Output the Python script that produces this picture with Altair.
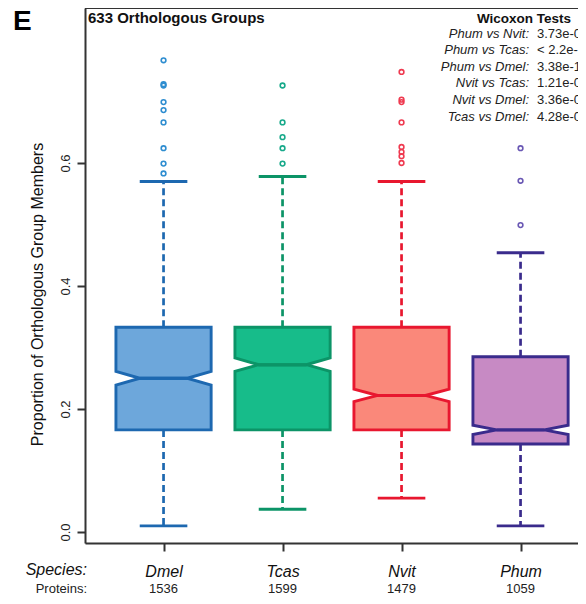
import altair as alt
import pandas as pd

# ---------------- data ----------------
species = ["Dmel", "Tcas", "Nvit", "Phum"]
proteins = [1536, 1599, 1479, 1059]
positions = [1, 2, 3, 4]
q1 = [0.166, 0.166, 0.166, 0.143]
median = [0.250, 0.272, 0.222, 0.166]
q3 = [0.333, 0.333, 0.333, 0.285]
whisker_low = [0.010, 0.037, 0.055, 0.010]
whisker_high = [0.570, 0.578, 0.570, 0.454]
notch = [0.0112, 0.0109, 0.0101, 0.0075]
outliers = {
    "Dmel": [0.767, 0.728, 0.726, 0.699, 0.686, 0.666, 0.624, 0.599, 0.583],
    "Tcas": [0.726, 0.666, 0.642, 0.624, 0.599],
    "Nvit": [0.748, 0.703, 0.699, 0.666, 0.626, 0.618, 0.611, 0.600],
    "Phum": [0.624, 0.571, 0.499],
}
test_names = ["Phum vs Nvit:", "Phum vs Tcas:", "Phum vs Dmel:",
              "Nvit vs Tcas:", "Nvit vs Dmel:", "Tcas vs Dmel:"]
test_pvals = ["3.73e-09", "< 2.2e-16", "3.38e-15", "1.21e-03", "3.36e-02", "4.28e-01"]
y_ticks = [0.0, 0.2, 0.4, 0.6]

fill_colors = ["#6DA7DB", "#17BC8A", "#FA887A", "#C78AC4"]
stroke_colors = ["#1D68B0", "#0C9467", "#E8172F", "#3A2B8C"]
point_colors = ["#2E8DD0", "#17A98A", "#EF3A50", "#6A58B4"]

FONT = "Liberation Sans"
W, H = 493, 535
BOX_HALF = 0.4
CAP_HALF = 0.2
NOTCH_FRAC = 0.5

# ---------------- tables ----------------
stats = pd.DataFrame({
    "sp": species, "pos": positions, "q1": q1, "med": median, "q3": q3,
    "wlo": whisker_low, "whi": whisker_high, "notch": notch, "n": proteins,
})

# notched box, drawn as two vertical areas (below and above the median)
half_rows = []
offsets = [-BOX_HALF, -BOX_HALF * NOTCH_FRAC, BOX_HALF * NOTCH_FRAC, BOX_HALF]
notch_scale = [1, 0, 0, 1]
for s, p, a, m, b, nt in zip(species, positions, q1, median, q3, notch):
    for part, edge, sign in (("lo", a, -1), ("hi", b, 1)):
        for off, ns in zip(offsets, notch_scale):
            half_rows.append({"sp": s, "part": s + part, "bx": p + off, "edge": edge,
                              "inner": m + sign * nt * ns})
halves = pd.DataFrame(half_rows)

out_rows = [{"sp": s, "v": v} for s in species for v in outliers[s]]
outdf = pd.DataFrame(out_rows)
outdf["pos"] = outdf["sp"].map(dict(zip(species, positions)))

one = pd.DataFrame({"k": [0]})

xscale = alt.Scale(domain=[0.34, 0.34 + W / 119.0], nice=False, zero=False)
yscale = alt.Scale(domain=[-0.0179, 0.852], nice=False, zero=False)
fill_enc = alt.Fill("sp:N", scale=alt.Scale(domain=species, range=fill_colors), legend=None)
stroke_enc = alt.Stroke("sp:N", scale=alt.Scale(domain=species, range=stroke_colors), legend=None)

label_expr = "[" + ",".join(["''"] + [f"'{s}'" for s in species]) + "][datum.value]"

x_axis = alt.Axis(values=positions, labelExpr=label_expr, title=None, grid=False,
                  tickSize=8, tickWidth=2, tickColor="#333", domainColor="#333",
                  domainWidth=2, labelFont=FONT, labelFontSize=16, labelFontStyle="italic",
                  labelColor="#111", labelPadding=25, labelBaseline="alphabetic")
y_axis = alt.Axis(values=y_ticks, format=".1f", title="Proportion of Orthologous Group Members",
                  grid=False, tickSize=8, tickWidth=2, tickColor="#333", domainColor="#333",
                  domainWidth=2, labelFont=FONT, labelFontSize=13, labelColor="#222",
                  labelAngle=270, labelAlign="center", labelBaseline="alphabetic",
                  labelPadding=8, titleFont=FONT, titleFontSize=16, titleFontWeight="normal",
                  titleColor="#111", titleAngle=270, titleAlign="center",
                  titleBaseline="alphabetic", titleX=-43, titleY=286)

# whiskers
whisk_hi = alt.Chart(stats).mark_rule(strokeWidth=2.7, strokeDash=[7, 4]).encode(
    x=alt.X("pos:Q", scale=xscale, axis=x_axis),
    y=alt.Y("q3:Q", scale=yscale, axis=y_axis), y2="whi:Q", stroke=stroke_enc)
whisk_lo = alt.Chart(stats).mark_rule(strokeWidth=2.7, strokeDash=[7, 4]).encode(
    x="pos:Q", y="q1:Q", y2="wlo:Q", stroke=stroke_enc)
caps_hi = alt.Chart(stats).transform_calculate(
    xl=f"datum.pos - {CAP_HALF}", xr=f"datum.pos + {CAP_HALF}"
).mark_rule(strokeWidth=2.9).encode(x="xl:Q", x2="xr:Q", y="whi:Q", stroke=stroke_enc)
caps_lo = alt.Chart(stats).transform_calculate(
    xl=f"datum.pos - {CAP_HALF}", xr=f"datum.pos + {CAP_HALF}"
).mark_rule(strokeWidth=2.9).encode(x="xl:Q", x2="xr:Q", y="wlo:Q", stroke=stroke_enc)

# notched boxes
boxes = alt.Chart(halves).mark_area(strokeWidth=2.9, strokeJoin="miter").encode(
    x="bx:Q", y="edge:Q", y2="inner:Q", fill=fill_enc, stroke=stroke_enc,
    detail="part:N")
medians = alt.Chart(stats).transform_calculate(
    xl=f"datum.pos - {BOX_HALF * NOTCH_FRAC}", xr=f"datum.pos + {BOX_HALF * NOTCH_FRAC}"
).mark_rule(strokeWidth=2.9).encode(x="xl:Q", x2="xr:Q", y="med:Q", stroke=stroke_enc)

# outliers
pts = alt.Chart(outdf).mark_point(shape="circle", filled=False, size=22, strokeWidth=1.6,
                                  opacity=1).encode(
    x="pos:Q", y="v:Q",
    color=alt.Color("sp:N", scale=alt.Scale(domain=species, range=point_colors), legend=None))

# top frame line
top_line = alt.Chart(one).mark_rule(color="#333", strokeWidth=2).encode(
    x=alt.value(0), x2=alt.value(W + 5), y=alt.value(0))

# texts
counts = alt.Chart(stats).mark_text(font=FONT, fontSize=13, color="#222",
                                    baseline="alphabetic").encode(
    x="pos:Q", y=alt.value(585), text="n:N")
species_lbl = alt.Chart(one).mark_text(text="Species:", font=FONT, fontSize=16,
                                       fontStyle="italic", align="right",
                                       baseline="alphabetic", color="#111").encode(
    x=alt.value(2), y=alt.value(567))
proteins_lbl = alt.Chart(one).mark_text(text="Proteins:", font=FONT, fontSize=13,
                                        align="right", baseline="alphabetic",
                                        color="#222").encode(
    x=alt.value(2), y=alt.value(585))
panel_lbl = alt.Chart(one).mark_text(text="E", font=FONT, fontSize=28, fontWeight="bold",
                                     align="left", baseline="alphabetic",
                                     color="#000").encode(
    x=alt.value(-72), y=alt.value(22))
title_lbl = alt.Chart(one).mark_text(text="633 Orthologous Groups", font=FONT, fontSize=15,
                                     fontWeight="bold", align="left", baseline="alphabetic",
                                     color="#111").encode(
    x=alt.value(3), y=alt.value(14.7))
test_title = alt.Chart(one).mark_text(text="Wicoxon Tests", font=FONT, fontSize=13.5,
                                      fontWeight="bold", align="center",
                                      baseline="alphabetic", color="#111").encode(
    x=alt.value(439), y=alt.value(15.3))
test_names_txt = alt.Chart(one).mark_text(text=test_names, font=FONT, fontSize=13,
                                          fontStyle="italic", align="right",
                                          baseline="alphabetic", lineHeight=16.6,
                                          color="#222").encode(
    x=alt.value(444), y=alt.value(29.7))
test_vals_txt = alt.Chart(one).mark_text(text=test_pvals, font=FONT, fontSize=13,
                                         align="left", baseline="alphabetic",
                                         lineHeight=16.6, color="#222").encode(
    x=alt.value(452), y=alt.value(29.7))

chart = alt.layer(
    whisk_hi, whisk_lo, caps_hi, caps_lo, boxes, medians, pts, top_line,
    counts, species_lbl, proteins_lbl, panel_lbl, title_lbl,
    test_title, test_names_txt, test_vals_txt,
).properties(
    width=W, height=H,
    autosize=alt.AutoSizeParams(type="none"),
    padding={"left": 77, "top": 0, "right": 0, "bottom": 53},
).configure_view(stroke=None).configure(background="white")

chart.save("out.html", embed_options={"renderer": "svg", "actions": False})
